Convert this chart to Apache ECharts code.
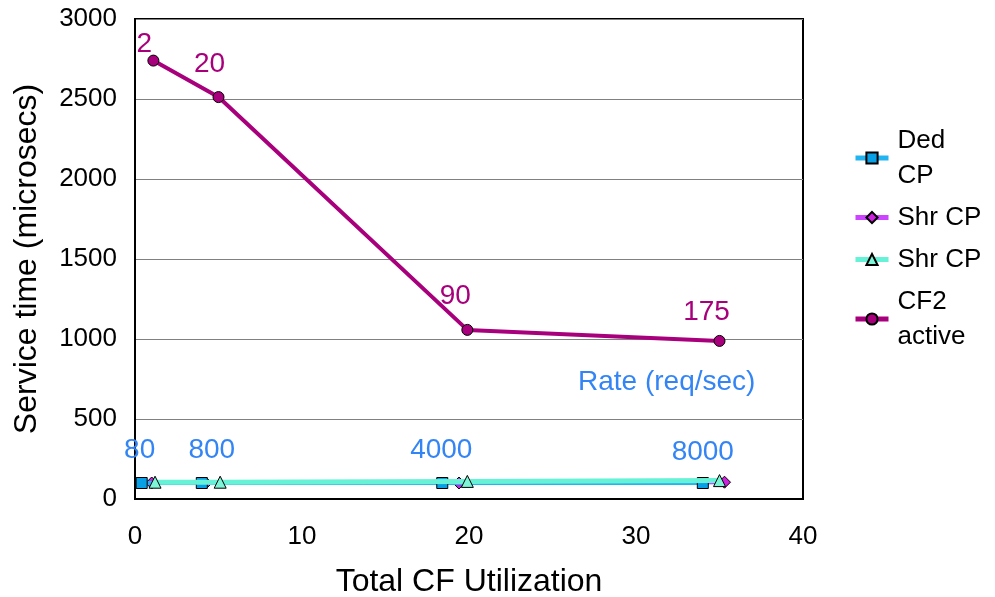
<!DOCTYPE html>
<html><head><meta charset="utf-8">
<script src="https://cdn.jsdelivr.net/npm/echarts@6/dist/echarts.min.js"></script>
<style>html,body{margin:0;padding:0;background:#fff}#c{width:995px;height:597px}</style>
</head><body><div id="c"></div>
<script>
var seriesNames = ['Ded CP', 'Shr CP', 'Shr CP ', 'CF2 active'];
var legendLabels = ['Ded\nCP', 'Shr CP', 'Shr CP', 'CF2\nactive'];
var dedCP = [[0.4, 100], [4.0, 100], [18.4, 100], [34.0, 100]];
var shrCP1 = [[1.0, 100], [4.25, 100], [19.4, 100], [35.3, 105]];
var shrCP2 = [[1.2, 105], [5.1, 105], [19.9, 110], [35.0, 115]];
var cf2Active = [[1.1, 2740], [5.0, 2512], [19.9, 1057], [35.0, 988]];
var cf2Labels = ['2', '20', '90', '175'];
var rateLabels = ['80', '800', '4000', '8000'];
var rateTitle = 'Rate (req/sec)';
var xTitle = 'Total CF Utilization';
var yTitle = 'Service time (microsecs)';

var FONT = 'Liberation Sans, Arial, sans-serif';
var chart = echarts.init(document.getElementById('c'));

var cf2Offsets = [[-9, 4], [-9, -13], [-12, -14], [-13, -9]];
var rateOffsets = [[-2, -13], [10, -13], [-1, -13], [0, -11]];

function withLabels(data, labels, color, offsets) {
  return data.map(function (d, i) {
    return {
      value: d,
      label: {
        show: true, position: 'top', distance: 0, offset: offsets[i],
        formatter: labels[i], color: color, fontSize: 28, fontFamily: FONT
      }
    };
  });
}

chart.setOption({
  animation: false,
  grid: { left: 135, right: 192, top: 19, bottom: 98, show: true, borderColor: '#000', borderWidth: 2,
    outerBoundsMode: 'none', containLabel: false },
  xAxis: {
    type: 'value', min: 0, max: 40, interval: 10,
    name: xTitle, nameLocation: 'middle', nameGap: 67,
    nameTextStyle: { fontSize: 32, color: '#000', fontFamily: FONT },
    axisLine: { show: true, lineStyle: { color: '#000', width: 2 } },
    axisTick: { show: false },
    axisLabel: { fontSize: 26, color: '#000', fontFamily: FONT, margin: 25 },
    splitLine: { show: false }
  },
  yAxis: {
    type: 'value', min: 0, max: 3000, interval: 500,
    name: yTitle, nameLocation: 'middle', nameGap: 92, nameRotate: 90,
    nameTextStyle: { fontSize: 32, color: '#000', fontFamily: FONT },
    axisLine: { show: true, lineStyle: { color: '#000', width: 2 } },
    axisTick: { show: false },
    axisLabel: { fontSize: 26, color: '#000', fontFamily: FONT, margin: 18,
      formatter: function (v) { return String(v); } },
    splitLine: { show: true, lineStyle: { color: '#808080', width: 1 } }
  },
  legend: {
    orient: 'vertical', left: 853, top: 123, padding: 0,
    itemWidth: 33, itemHeight: 14, itemGap: 7,
    lineStyle: { width: 5 },
    textStyle: { fontSize: 26, color: '#000', fontFamily: FONT, lineHeight: 35, padding: [0, 0, 0, 4] },
    formatter: function (n) { return legendLabels[seriesNames.indexOf(n)]; },
    data: seriesNames
  },
  graphic: [{
    type: 'text', left: 578, top: 368,
    style: { text: rateTitle, fill: '#3385f5', fontSize: 28, fontFamily: FONT }
  }],
  series: [
    {
      name: seriesNames[0], type: 'line', data: withLabels(dedCP, rateLabels, '#3385f5', rateOffsets),
      symbol: 'rect', symbolSize: 11, z: 3,
      lineStyle: { color: '#22b4f0', width: 4 },
      itemStyle: { color: '#0aa0e6', borderColor: '#000', borderWidth: 1 }
    },
    {
      name: seriesNames[1], type: 'line', data: shrCP1,
      symbol: 'diamond', symbolSize: 12, z: 2,
      lineStyle: { color: '#cc44ff', width: 4 },
      itemStyle: { color: '#cc22dd', borderColor: '#000', borderWidth: 1 }
    },
    {
      name: seriesNames[2], type: 'line', data: shrCP2,
      symbol: 'triangle', symbolSize: 12, z: 4,
      lineStyle: { color: '#66f2d6', width: 5 },
      itemStyle: { color: '#7ff5d8', borderColor: '#000', borderWidth: 1 }
    },
    {
      name: seriesNames[3], type: 'line', data: withLabels(cf2Active, cf2Labels, '#a8007c', cf2Offsets),
      symbol: 'circle', symbolSize: 11, z: 5,
      lineStyle: { color: '#a8007c', width: 4 },
      itemStyle: { color: '#a8007c', borderColor: '#000', borderWidth: 1 }
    }
  ]
});
</script></body></html>
